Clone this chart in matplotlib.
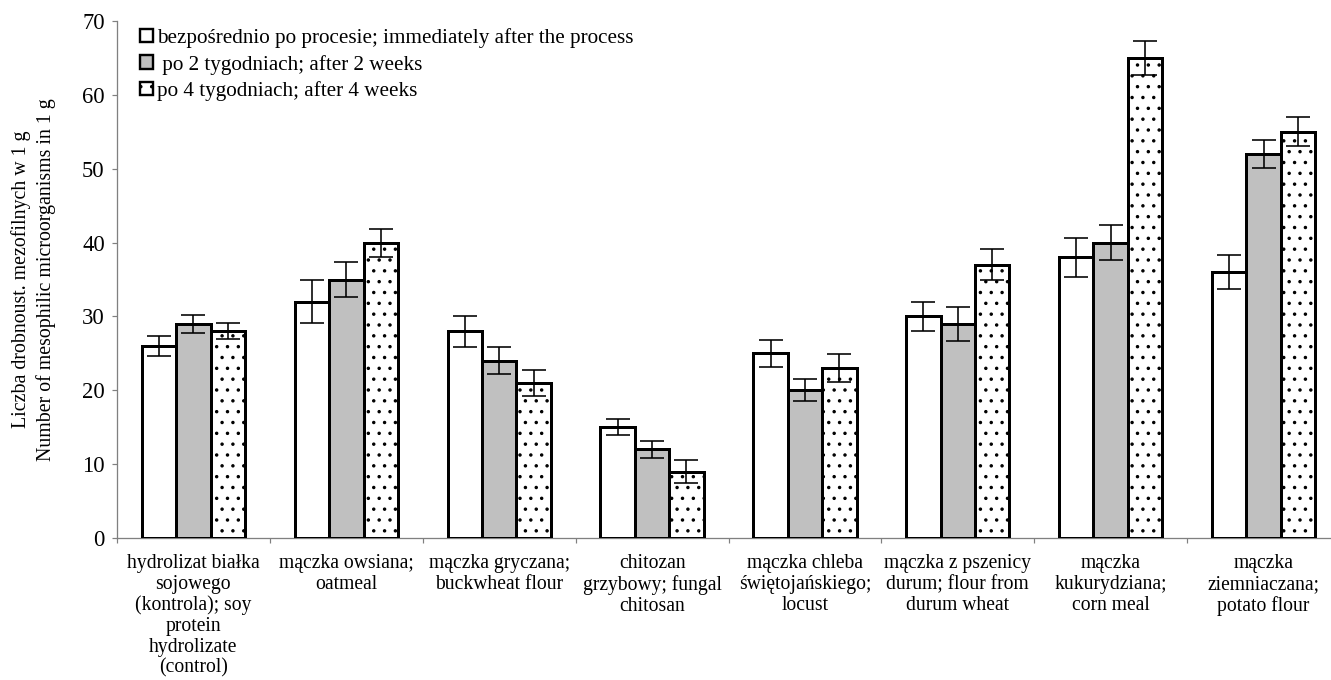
import matplotlib
matplotlib.use("Agg")
import matplotlib.pyplot as plt
from matplotlib.patches import Patch
import numpy as np

categories = [
    "hydrolizat białka\nsojowego\n(kontrola); soy\nprotein\nhydrolizate\n(control)",
    "mączka owsiana;\noatmeal",
    "mączka gryczana;\nbuckwheat flour",
    "chitozan\ngrzybowy; fungal\nchitosan",
    "mączka chleba\nświętojańskiego;\nlocust",
    "mączka z pszenicy\ndurum; flour from\ndurum wheat",
    "mączka\nkukurydziana;\ncorn meal",
    "mączka\nziemniaczana;\npotato flour",
]
series_names = [
    "bezpośrednio po procesie; immediately after the process",
    " po 2 tygodniach; after 2 weeks",
    "po 4 tygodniach; after 4 weeks",
]
vals_0 = [26, 32, 28, 15, 25, 30, 38, 36]
vals_2 = [29, 35, 24, 12, 20, 29, 40, 52]
vals_4 = [28, 40, 21, 9, 23, 37, 65, 55]
err_0 = [1.4, 2.9, 2.1, 1.1, 1.8, 2.0, 2.6, 2.25]
err_2 = [1.2, 2.4, 1.8, 1.2, 1.5, 2.3, 2.4, 1.9]
err_4 = [1.1, 1.9, 1.8, 1.5, 1.9, 2.1, 2.25, 1.95]
y_ticks = [0, 10, 20, 30, 40, 50, 60, 70]
y_label = "Liczba drobnoust. mezofilnych w 1 g\nNumber of mesophilic microorganisms in 1 g"

DPI = 130
W, H = 1331, 680
plt.rcParams['font.family'] = ['Liberation Serif', 'DejaVu Serif']
plt.rcParams['hatch.linewidth'] = 0.7
plt.rcParams['hatch.color'] = '#444444'

fig = plt.figure(figsize=(W / DPI, H / DPI), dpi=DPI)
ax = fig.add_axes([117 / W, 142 / H, 1223 / W, 517 / H])

x = np.arange(len(categories)) + 0.5
bw = 0.225
styles = [
    dict(facecolor='white', hatch=None),
    dict(facecolor='#c0c0c0', hatch=None),
    dict(facecolor='white', hatch='..'),
]
series = [vals_0, vals_2, vals_4]
errs = [err_0, err_2, err_4]
lw_px = 3.0
lw = lw_px * 72 / DPI
for i, (v, e, st) in enumerate(zip(series, errs, styles)):
    xs = x + (i - 1) * bw
    ax.bar(xs, v, width=bw, facecolor=st['facecolor'], edgecolor='black',
           linewidth=lw, hatch=st['hatch'], zorder=3)
    ax.errorbar(xs, v, yerr=e, fmt='none', ecolor='black',
                elinewidth=1.6 * 72 / DPI, capsize=6.5, capthick=1.6 * 72 / DPI,
                zorder=4)

ax.set_xlim(0, len(categories))
ax.set_ylim(0, 70)
ax.set_yticks(y_ticks)
ax.set_xticks(x)
ax.set_xticklabels(categories, fontsize=10.9, linespacing=1.12)
ax.set_xticks(np.arange(len(categories) + 1), minor=True)
ax.tick_params(axis='x', which='major', length=0, pad=9)
ax.tick_params(axis='x', which='minor', length=5 * 72 / DPI, color='#808080', width=1.2 * 72 / DPI, direction='out')
ax.tick_params(axis='y', which='major', length=5 * 72 / DPI, color='#808080', width=1.2 * 72 / DPI,
               direction='out', labelsize=12.5, pad=4)
for s in ['top', 'right']:
    ax.spines[s].set_visible(False)
for s in ['left', 'bottom']:
    ax.spines[s].set_color('#808080')
    ax.spines[s].set_linewidth(1.3 * 72 / DPI)

ax.set_ylabel(y_label, fontsize=11, linespacing=1.32, labelpad=14.5)

handles = [Patch(facecolor=st['facecolor'], edgecolor='black', linewidth=lw * 0.8,
                 hatch=st['hatch']) for st in styles]
leg = fig.legend(handles, series_names, loc='upper left',
                 bbox_to_anchor=(140 / W, 1 - 28 / H), frameon=False,
                 fontsize=11.7, handlelength=0.6, handleheight=0.6,
                 handletextpad=0.2, labelspacing=0.32, borderaxespad=0,
                 borderpad=0)

fig.savefig("out.png", dpi=DPI)
